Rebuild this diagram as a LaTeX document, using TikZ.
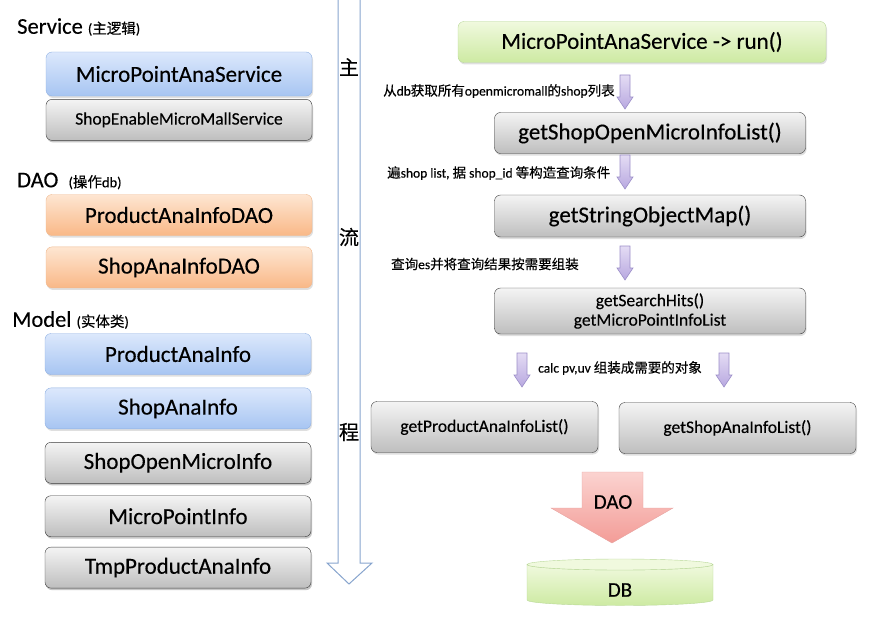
\documentclass[tikz,border=0pt]{standalone}
\usepackage{fontspec}
\setmainfont[FakeBold=0.3]{Carlito}
\newfontfamily\cjk[FakeBold=0.3]{Noto Sans CJK SC}
\newcommand{\zh}[1]{{\cjk #1}}
\newcommand{\subfont}{\fontsize{14.5}{17}\selectfont}
\usepackage{tikz}
\usetikzlibrary{shadows,positioning}

\definecolor{bluetop}{HTML}{DCE8FC}
\definecolor{bluebot}{HTML}{A7C5F2}
\definecolor{blueline}{HTML}{8FB0E2}
\definecolor{graytop}{HTML}{F4F4F4}
\definecolor{graybot}{HTML}{BEBEBE}
\definecolor{grayline}{HTML}{3C3C3C}
\definecolor{orangetop}{HTML}{FEE6D2}
\definecolor{orangebot}{HTML}{F9B887}
\definecolor{orangeline}{HTML}{EFB88E}
\definecolor{greentop}{HTML}{F0F9DE}
\definecolor{greenbot}{HTML}{CDEAA2}
\definecolor{greenline}{HTML}{B9D898}
\definecolor{lavtop}{HTML}{E4DCF4}
\definecolor{lavbot}{HTML}{B8A8E0}
\definecolor{lavline}{HTML}{9C8FC8}
\definecolor{pinktop}{HTML}{FBD3D0}
\definecolor{pinkbot}{HTML}{F39C97}
\definecolor{pinkline}{HTML}{E7A3A0}
\definecolor{flowline}{HTML}{88A5CE}

\tikzset{box/.style={rectangle,rounded corners=6pt,inner sep=0pt,minimum height=41pt,align=center,
            font=\fontsize{23}{26}\selectfont,
            drop shadow={shadow xshift=1pt,shadow yshift=-2pt,opacity=.25}},
         left box/.style={box,minimum width=266pt},
         blue box/.style={left box,draw=blueline,top color=bluetop,bottom color=bluebot},
         gray box/.style={box,draw=grayline,top color=graytop,bottom color=graybot},
         orange box/.style={left box,draw=orangeline,top color=orangetop,bottom color=orangebot},
         green box/.style={box,draw=greenline,top color=greentop,bottom color=greenbot},
         small text/.style={font=\fontsize{17.5}{19.5}\selectfont},
         heading/.style={anchor=west,inner sep=0pt,font=\fontsize{22.5}{26}\selectfont},
         note/.style={anchor=west,inner sep=0pt,font=\fontsize{13.5}{16}\selectfont},
         flow char/.style={inner sep=0pt,font=\cjk\fontsize{20}{22}\selectfont},
         flow arrow/.style={draw=lavline,top color=lavtop,bottom color=lavbot,line width=.6pt},
            }

\begin{document}
\begin{tikzpicture}[x=1pt,y=-1pt]

    \useasboundingbox (0,0) rectangle (886,618);

    % main flow arrow
    \path[fill=white,draw=flowline,line width=1pt] (338,-3) -- (338,563) -- (327,563) -- (349,584)
        -- (372,563) -- (360,563) -- (360,-3);
    \node[flow char] (c1) at (349,67) {主};
    \node[flow char] (c2) at (349,237) {流};
    \node[flow char] (c3) at (349,432) {程};

    % left column
    \node[heading] (svchead) at (17,27) {Service {\subfont (\zh{主逻辑})}};
    \node[blue box,minimum height=44pt] (mpas) at (179,74) {MicroPointAnaService};
    \node[gray box,left box,small text] (semms) [below=3pt of mpas] {ShopEnableMicroMallService};

    \node[heading] (daohead) at (17,181) {DAO \ {\subfont (\zh{操作}db)}};
    \node[orange box] (padao) at (179,215) {ProductAnaInfoDAO};
    \node[orange box] (sadao) [below=11pt of padao] {ShopAnaInfoDAO};

    \node[heading] (modhead) at (12,320) {Model {\subfont (\zh{实体类})}};
    \node[blue box] (pai) at (178,354) {ProductAnaInfo};
    \node[blue box] (sai) [below=13pt of pai] {ShopAnaInfo};
    \node[gray box,left box] (somi) [below=13pt of sai] {ShopOpenMicroInfo};
    \node[gray box,left box] (mpi) [below=12pt of somi] {MicroPointInfo};
    \node[gray box,left box] (tpai) [below=10pt of mpi] {TmpProductAnaInfo};

    % right column
    \node[green box,minimum width=368pt] (run) at (642,42) {MicroPointAnaService -> run()};
    \node[gray box,minimum width=311pt] (sol) at (650,133) {getShopOpenMicroInfoList()};
    \node[gray box,minimum width=311pt,minimum height=42pt] (som) at (650,216) {getStringObjectMap()};
    \node[gray box,minimum width=311pt,minimum height=46pt,small text] (sh) at (650,311)
        {getSearchHits()\\getMicroPointInfoList};
    \node[gray box,minimum width=227pt,minimum height=51pt,small text] (pal) at (484.5,427) {getProductAnaInfoList()};
    \node[gray box,minimum width=237pt,minimum height=51pt,small text] (sal) at (737.5,428) {getShopAnaInfoList()};

    \foreach \x/\y in {625/75,625/155,625/246,522/353,724/353}
        \path[flow arrow] (\x-5,\y) -- (\x+5,\y) -- (\x+5,\y+22) -- (\x+8,\y+22) -- (\x,\y+34)
            -- (\x-8,\y+22) -- (\x-5,\y+22) -- cycle;

    \node[note] (n1) at (383,91) {\zh{从}db\zh{获取所有}openmicromall\zh{的}shop\zh{列表}};
    \node[note] (n2) at (387,173) {\zh{遍}shop list, \zh{据} shop\_id \zh{等构造查询条件}};
    \node[note] (n3) at (391,264) {\zh{查询}es\zh{并将查询结果按需要组装}};
    \node[note] (n4) at (538,368) {calc pv,uv \zh{组装成需要的对象}};

    % DAO arrow and DB
    \path[draw=pinkline,top color=pinktop,bottom color=pinkbot] (582,472) -- (643,472) -- (643,508)
        -- (673,508) -- (612,543) -- (551,508) -- (582,508) -- cycle;
    \node[font=\fontsize{21}{24}\selectfont] (dao) at (613,502) {DAO};

    \path[draw=greenline,top color=greentop,bottom color=greenbot] (527,564.5) -- (527,600)
        arc[start angle=180,end angle=0,x radius=93,y radius=5.5] -- (713,564.5)
        arc[start angle=0,end angle=180,x radius=93,y radius=5.5] -- cycle;
    \path[draw=greenline,fill=greentop] (620,564.5) ellipse[x radius=93,y radius=5.5];
    \node[font=\fontsize{21}{24}\selectfont] (db) at (620,590) {DB};

\end{tikzpicture}
\end{document}
